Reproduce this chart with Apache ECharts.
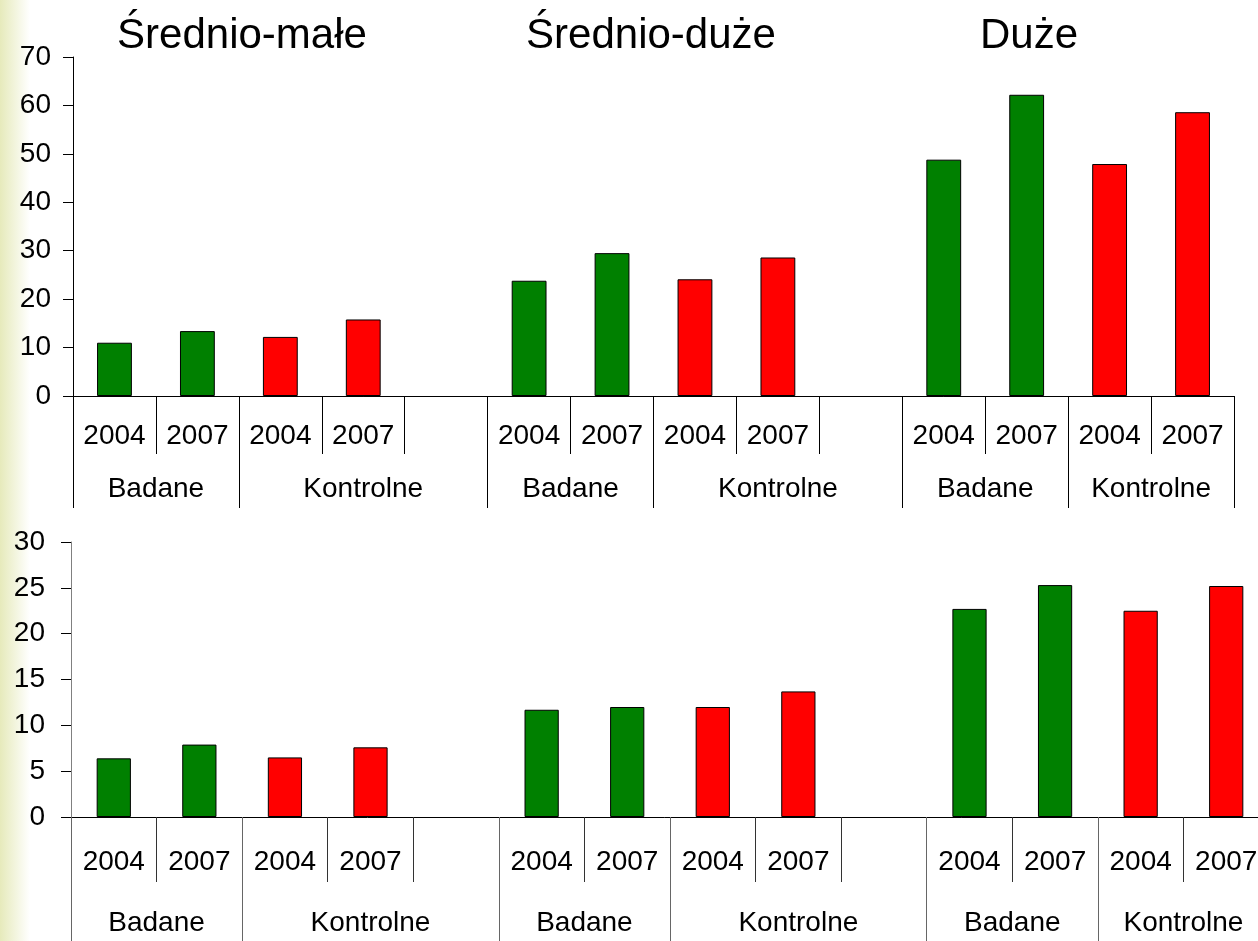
<!DOCTYPE html>
<html>
<head>
<meta charset="utf-8">
<script src="https://cdn.jsdelivr.net/npm/echarts@6/dist/echarts.min.js"></script>
<style>
  html, body { margin: 0; padding: 0; background: #fff; }
  #chart { width: 1258px; height: 941px; }
</style>
</head>
<body>
<div id="chart"></div>
<script>
const sizeClasses = ['Średnio-małe', 'Średnio-duże', 'Duże'];
const groups = ['Badane', 'Kontrolne'];
const years = ['2004', '2007'];

// per size class: [Badane 2004, Badane 2007, Kontrolne 2004, Kontrolne 2007]
const topSmall = [11.0, 13.4, 12.2, 15.8];
const topMedium = [23.8, 29.5, 24.1, 28.6];
const topLarge = [48.8, 62.2, 47.9, 58.6];

const bottomSmall = [6.4, 7.9, 6.5, 7.6];
const bottomMedium = [11.7, 12.0, 12.0, 13.7];
const bottomLarge = [22.7, 25.3, 22.5, 25.2];

const topYMax = 70, topYStep = 10;
const bottomYMax = 30, bottomYStep = 5;

const groupColors = ['#008000', '#ff0000'];
const font = 'Liberation Sans, Arial, sans-serif';
const labelSize = 28;

// lay the classes out as slots: years per group, one blank slot after each class but the last
const buildPanel = (classValues) => {
  const cats = [], data = [], bounds = [0], centers = [], names = [];
  classValues.forEach((vals, c) => {
    groups.forEach((g, gi) => {
      const start = cats.length;
      years.forEach((y, yi) => {
        cats.push(y);
        data.push({ value: vals[gi * years.length + yi], itemStyle: { color: groupColors[gi] } });
      });
      if (gi === groups.length - 1 && c < classValues.length - 1) {
        cats.push('');
        data.push('-');
      }
      centers.push((start + cats.length) / 2);
      names.push(g);
      bounds.push(cats.length);
    });
  });
  return { cats, data, bounds, centers, names };
};

const topPanel = buildPanel([topSmall, topMedium, topLarge]);
const bottomPanel = buildPanel([bottomSmall, bottomMedium, bottomLarge]);

const yearAxis = (panel, gridIndex, tickLen, margin, color) => ({
  type: 'category',
  gridIndex: gridIndex,
  position: 'bottom',
  data: panel.cats,
  axisLine: { show: true, lineStyle: { color: '#000', width: 1 } },
  axisTick: { show: true, interval: 0, alignWithLabel: false, length: tickLen, lineStyle: { color: color, width: 1 } },
  axisLabel: { interval: 0, margin: margin, fontSize: labelSize, color: '#000', fontFamily: font }
});

const groupAxis = (panel, gridIndex, tickLen, margin, color) => ({
  type: 'value',
  gridIndex: gridIndex,
  position: 'bottom',
  min: 0,
  max: panel.cats.length,
  axisLine: { show: false },
  splitLine: { show: false },
  axisTick: { show: true, customValues: panel.bounds, length: tickLen, lineStyle: { color: color } },
  axisLabel: {
    customValues: panel.centers,
    margin: margin,
    fontSize: labelSize,
    color: '#000',
    fontFamily: font,
    formatter: (v) => panel.names[panel.centers.indexOf(v)] || ''
  }
});

const valueAxis = (gridIndex, max, step, margin, lineColor) => ({
  type: 'value',
  gridIndex: gridIndex,
  min: 0,
  max: max,
  interval: step,
  splitLine: { show: false },
  axisLine: { show: true, lineStyle: { color: lineColor } },
  axisTick: { show: true, length: 10, lineStyle: { color: '#000' } },
  axisLabel: { margin: margin, fontSize: labelSize, color: '#000', fontFamily: font }
});

const chart = echarts.init(document.getElementById('chart'));
const titleCenters = [242, 651, 1029];

const option = {
  backgroundColor: '#fff',
  animation: false,
  title: sizeClasses.map((name, i) => ({
    text: name,
    left: titleCenters[i],
    top: 15,
    padding: 0,
    textAlign: 'center',
    textStyle: { fontSize: 42, fontWeight: 'normal', color: '#000', fontFamily: font }
  })),
  graphic: [
    {
      type: 'rect',
      z: -10,
      shape: { x: 0, y: 0, width: 30, height: 941 },
      style: {
        fill: new echarts.graphic.LinearGradient(0, 0, 1, 0, [
          { offset: 0, color: '#e6eabb' },
          { offset: 1, color: '#ffffff' }
        ])
      }
    }
  ],
  grid: [
    { left: 73, top: 57, width: 1161, height: 339, outerBoundsMode: 'none' },
    { left: 71, top: 542, width: 1198, height: 275, outerBoundsMode: 'none' }
  ],
  xAxis: [
    yearAxis(topPanel, 0, 58, 26, '#000'),
    groupAxis(topPanel, 0, 112, 79, '#000'),
    yearAxis(bottomPanel, 1, 65, 31, '#333'),
    groupAxis(bottomPanel, 1, 130, 92, '#666')
  ],
  yAxis: [
    valueAxis(0, topYMax, topYStep, 22, '#000'),
    valueAxis(1, bottomYMax, bottomYStep, 26, '#808080')
  ],
  series: [
    {
      type: 'bar',
      xAxisIndex: 0,
      yAxisIndex: 0,
      barWidth: '42%',
      itemStyle: { borderColor: '#000', borderWidth: 1 },
      data: topPanel.data
    },
    {
      type: 'bar',
      xAxisIndex: 2,
      yAxisIndex: 1,
      barWidth: '40%',
      itemStyle: { borderColor: '#000', borderWidth: 1 },
      data: bottomPanel.data
    }
  ]
};
chart.setOption(option);
</script>
</body>
</html>
